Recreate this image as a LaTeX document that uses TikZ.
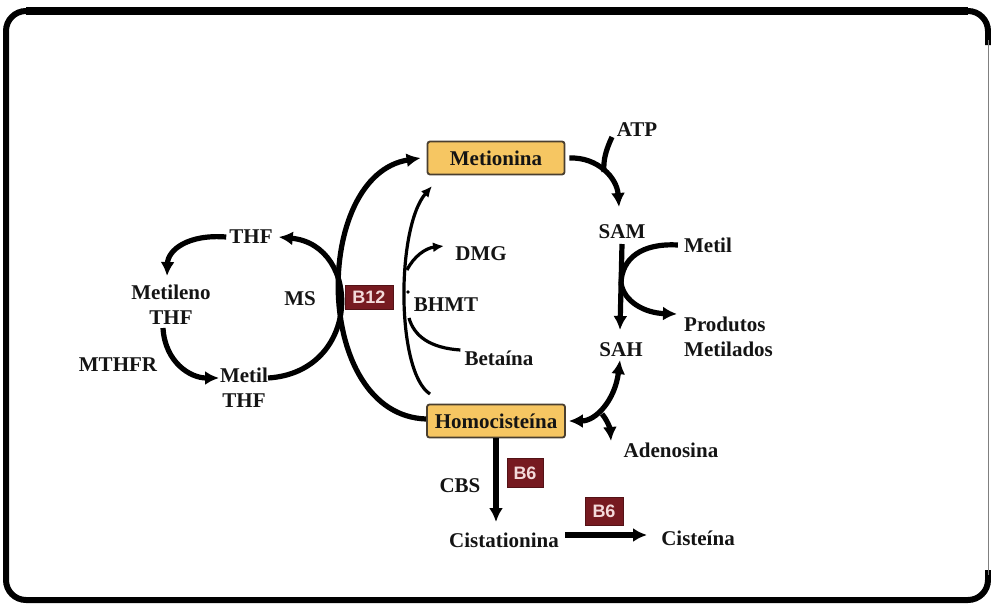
\documentclass[tikz,border=0pt]{standalone}
\usepackage{fontspec}
\setmainfont{Liberation Serif}
\newfontfamily\badgefont{Liberation Sans}
\usetikzlibrary{arrows.meta}
\definecolor{boxfill}{HTML}{F6C662}
\definecolor{boxline}{HTML}{4A3F2F}
\definecolor{badgefill}{HTML}{761A20}
\definecolor{badgetext}{HTML}{F3DADA}
\definecolor{ink}{HTML}{141414}
\tikzset{
  lbl/.style={font=\fontsize{21}{25}\selectfont\bfseries, text=ink, inner sep=0pt, align=center},
  keybox/.style={lbl, draw=boxline, line width=1.8pt, fill=boxfill, rounded corners=2.5pt,
    minimum width=137pt, minimum height=33pt},
  badge/.style={fill=badgefill, draw=badgefill!70!black, line width=0.8pt,
    text=badgetext, font=\badgefont\fontsize{18}{18}\selectfont\bfseries, inner sep=0pt},
  thickarr/.style={line width=5.2pt, draw=black, -{Latex[length=14pt,width=14pt]}},
  thickline/.style={line width=5.2pt, draw=black},
  thinarr/.style={line width=3.2pt, draw=black, -{Latex[length=11pt,width=10pt]}},
  thinline/.style={line width=3.2pt, draw=black},
}
\begin{document}
\begin{tikzpicture}[x=1pt,y=-1pt]
\useasboundingbox (0,0) rectangle (991,605);
% frame
\draw[line width=6pt, rounded corners=20pt] (988,45) -- (988,11) -- (6,11) -- (6,600) -- (988,600) -- (988,570);
\draw[line width=8pt] (26,11) -- (968,11);
\draw[line width=1pt, gray] (988,40) -- (988,575);

% boxes
\node[keybox] (met) at (496,158) {Metionina};
\node[keybox, minimum width=138pt] (hcy) at (496,421) {Homociste\'ina};

% labels
\node[lbl] (atp) at (637,130) {ATP};
\node[lbl] (sam) at (622,232) {SAM};
\node[lbl] (metil) at (708,245) {Metil};
\node[lbl] (sah) at (621,350) {SAH};
\node[lbl, align=left, anchor=west] (prod) at (684,337) {Produtos\\Metilados};
\node[lbl] (aden) at (671,450) {Adenosina};
\node[lbl] (dmg) at (481,254) {DMG};
\node[lbl] (bhmt) at (446,305) {BHMT};
\node[lbl] (beta) at (499,358) {Beta\'ina};
\node[lbl] (ms) at (300,299) {MS};
\node[lbl] (thf) at (251,237) {THF};
\node[lbl] (mthf) at (171,305) {Metileno\\THF};
\node[lbl] (mthfr) at (118,365) {MTHFR};
\node[lbl] (methf) at (244,388) {Metil\\THF};
\node[lbl] (cbs) at (460,486) {CBS};
\node[lbl] (cist) at (504,540) {Cistationina};
\node[lbl] (cys) at (698,538) {Ciste\'ina};

% badges
\node[badge, minimum width=48pt, minimum height=24pt] (b12) at (369,297) {B12};
\node[badge, minimum width=36pt, minimum height=29pt] (b6a) at (525,473) {B6};
\node[badge, minimum width=38pt, minimum height=28pt] (b6b) at (604,511) {B6};

% coordinates
\coordinate (j1) at (604,172);
\coordinate (j2) at (621,283);
\coordinate (j3) at (602,414);
\coordinate (j4) at (407,270);
\coordinate (j5) at (409,318);
\coordinate (bhtop) at (432,186);
\coordinate (bhbot) at (430,394);

% methionine -> SAM with ATP
\draw[thickarr] ([xshift=4pt]met.east) .. controls (598,157) and (617,178) .. (619,207);
\draw[thickline] (612,137) .. controls (606,150) and (603,160) .. (j1);

% SAM -> SAH with Metil / Produtos metilados
\draw[thickarr] (sam.south |- 0,244) -- (620,330);
\draw[thickline] ([xshift=-6pt]metil.west) .. controls (642,243) and (622,258) .. (j2);
\draw[thickarr] (j2) .. controls (624,302) and (645,313) .. (677,314);

% SAH <-> Homocisteina, Adenosina
\draw[thickline, {Latex[length=14pt,width=14pt]}-{Latex[length=14pt,width=14pt]}]
  ([xshift=3pt]hcy.east) .. controls (596,421) and (615,400) .. (620,360);
\draw[thickarr] (j3) .. controls (607,420) and (610,428) .. (611,441);

% MS arcs
\draw[thickarr] ([yshift=2pt]hcy.west) .. controls (312,415) and (312,175) .. ([xshift=-6pt]met.west);
\draw[thickarr] (methf.east |- 0,378) .. controls (362,372) and (362,245) .. ([xshift=6pt]thf.east);

% folate cycle
\draw[thickarr] ([xshift=-3pt]thf.west) .. controls (188,234) and (168,250) .. (167,276);
\draw[thickarr] (163,328) .. controls (165,362) and (190,378) .. (219,378);

% BHMT
\draw[thinarr] (bhbot) .. controls (396,372) and (396,228) .. (bhtop);
\draw[thinarr] (j4) .. controls (414,256) and (426,248) .. (444,246);
\draw[thinline] ([xshift=-4pt]beta.west |- 0,350) .. controls (430,348) and (414,336) .. (j5);
\fill (408,292) circle (1.8pt);

% transsulfuration
\draw[thickarr] (hcy.south -| 496,0) -- (496,522);
\draw[thickarr, line width=5.5pt] ([xshift=6pt]cist.east |- 0,535) -- (647,535);
\end{tikzpicture}
\end{document}
